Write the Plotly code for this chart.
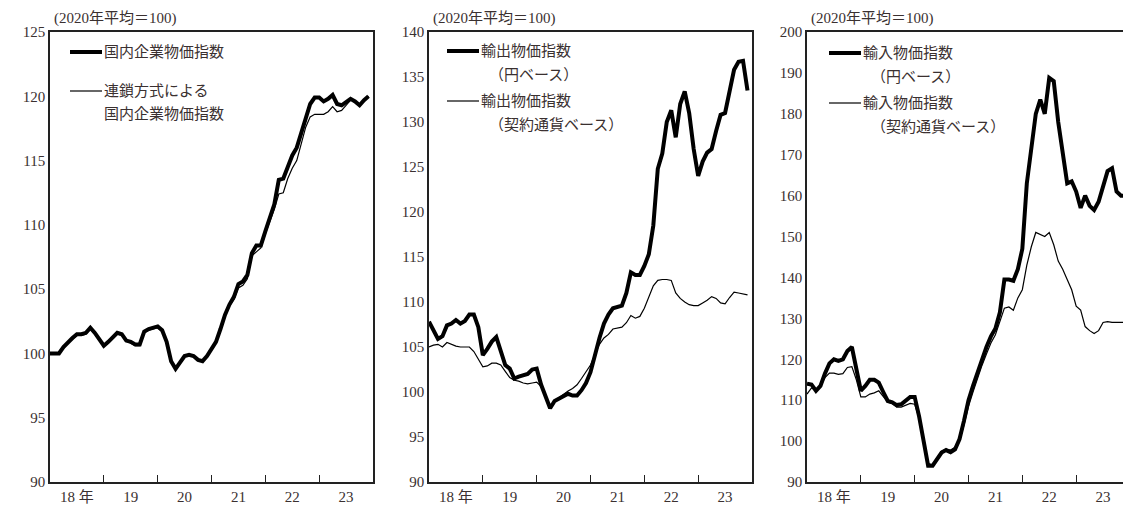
import plotly.graph_objects as go

W, H = 1123, 511

months = list(range(72))  # 2018-01 .. 2023-12

domestic = [100.0, 100.0, 100.0, 100.5, 100.9, 101.2, 101.5, 101.5, 101.6, 102.0, 101.6, 101.1,
            100.6, 100.9, 101.2, 101.6, 101.5, 101.0, 100.9, 100.7, 100.7, 101.7, 101.9, 102.0,
            102.1, 101.8, 100.9, 99.4, 98.8, 99.3, 99.8, 99.9, 99.8, 99.5, 99.4, 99.8,
            100.4, 100.9, 101.9, 103.0, 103.8, 104.4, 105.4, 105.6, 106.1, 107.8, 108.4, 108.4,
            109.5, 110.5, 111.6, 113.5, 113.6, 114.5, 115.4, 116.0, 117.2, 118.4, 119.4, 119.9,
            119.9, 119.6, 119.8, 120.1, 119.4, 119.3, 119.6, 119.8, 119.6, 119.3, 119.7, 120.0]
domestic_chain = [100.0, 100.0, 100.0, 100.4, 100.8, 101.1, 101.4, 101.4, 101.5, 101.9, 101.5, 101.0,
                  100.6, 100.9, 101.2, 101.5, 101.4, 101.0, 100.8, 100.6, 100.6, 101.6, 101.8, 101.9,
                  102.0, 101.7, 100.8, 99.4, 98.8, 99.3, 99.8, 99.9, 99.8, 99.5, 99.4, 99.8,
                  100.4, 100.9, 101.8, 102.9, 103.7, 104.2, 105.1, 105.3, 105.8, 107.6, 107.9, 108.2,
                  109.3, 110.2, 111.2, 112.4, 112.5, 113.6, 114.4, 115.0, 116.4, 117.6, 118.4, 118.6,
                  118.6, 118.6, 118.8, 119.2, 118.8, 118.9, 119.3, 119.7, 119.6, 119.3, 119.7, 120.0]

export_yen = [107.8, 106.8, 105.9, 106.2, 107.4, 107.6, 108.0, 107.6, 107.9, 108.6, 108.6, 107.2,
              104.1, 104.8, 105.6, 106.1, 104.5, 103.0, 102.6, 101.5, 101.7, 101.9, 102.0, 102.5,
              102.6, 100.8, 99.6, 98.2, 99.0, 99.3, 99.6, 99.8, 99.6, 99.6, 100.2, 101.0,
              102.2, 104.2, 106.0, 107.6, 108.6, 109.3, 109.4, 109.6, 111.0, 113.3, 113.0, 113.0,
              114.0, 115.3, 118.5, 124.8, 126.5, 130.0, 131.3, 128.3, 132.0, 133.4, 131.0, 127.0,
              124.0, 125.6, 126.6, 127.0, 129.0, 130.8, 131.0, 133.5, 135.8, 136.7, 136.8, 133.5]
export_contract = [105.0, 105.2, 105.3, 105.0, 105.5, 105.3, 105.1, 105.0, 105.0, 105.0, 104.5, 103.6,
                   102.8, 102.9, 103.2, 103.2, 103.0, 102.3, 101.6, 101.3, 101.2, 101.0, 100.9, 101.0,
                   101.1, 100.6, 99.5, 98.3, 99.0, 99.4, 99.8, 100.1, 100.4, 100.8, 101.5, 102.2,
                   103.0, 104.2, 105.3, 106.0, 106.4, 107.0, 107.1, 107.2, 107.7, 108.5, 108.2, 108.4,
                   109.3, 110.5, 111.8, 112.4, 112.5, 112.5, 112.4, 111.0, 110.4, 110.0, 109.7, 109.6,
                   109.6, 109.9, 110.2, 110.6, 110.4, 109.9, 109.8, 110.5, 111.1, 111.0, 110.9, 110.8]

import_yen = [114.0, 113.8, 112.3, 113.5, 116.5, 119.0, 120.0, 119.6, 120.0, 122.0, 123.0, 118.0,
              112.3, 113.5, 115.0, 115.0, 114.3, 112.0, 109.8, 109.5, 108.8, 109.0, 110.0, 110.8,
              110.8, 106.0, 100.0, 94.0, 94.0, 95.8, 97.2, 97.8, 97.3, 98.0, 100.5, 105.0,
              110.0, 113.5, 116.8, 120.0, 123.0, 125.6, 127.5, 131.5, 139.5, 139.5, 139.2, 142.0,
              147.0, 163.0, 171.0, 180.0, 183.5, 180.0, 188.8, 188.0, 178.0, 170.0, 163.0, 163.5,
              161.0, 157.0, 160.0, 157.5, 156.5, 158.5, 162.0, 166.0, 166.7, 161.0, 160.0, 160.0]
import_contract = [111.5, 113.0, 112.5, 113.5, 115.5, 116.6, 116.6, 116.3, 116.5, 118.0, 118.2, 115.0,
                   110.8, 110.8, 111.5, 111.8, 112.3, 111.0, 109.5, 109.2, 108.3, 108.3, 108.8, 109.2,
                   109.0, 105.5, 100.0, 94.5, 94.2, 96.0, 97.5, 98.0, 97.8, 98.5, 100.0, 104.0,
                   108.5, 112.0, 115.5, 118.5, 121.3, 124.0, 126.0, 129.0, 132.5, 132.8, 132.0, 135.0,
                   137.0, 143.0, 147.5, 151.0, 150.5, 150.0, 151.0, 148.0, 144.0, 142.0, 139.5, 137.0,
                   133.0, 132.0, 128.0, 127.0, 126.3, 127.0, 129.0, 129.2, 129.0, 129.0, 129.0, 129.0]

year_labels = ["18 年", "19", "20", "21", "22", "23"]
unit_label = "(2020年平均＝100)"

FONT = "Liberation Serif, Noto Sans CJK JP"
TXT = "#3a3030"


def px(x):
    return x / W


def py(y):
    return 1 - y / H


panels = [
    dict(left=50, right=373, yr=[90, 125], dt=5, thick=domestic, thin=domestic_chain,
         xr=[0, 72],
         leg=[("thick", 70, 52, "国内企業物価指数"), ("thin", 70, 91, "連鎖方式による"),
              ("none", 102, 114, "国内企業物価指数")]),
    dict(left=429, right=752, yr=[90, 140], dt=5, thick=export_yen, thin=export_contract,
         xr=[0, 72],
         leg=[("thick", 447, 51, "輸出物価指数"), ("none", 487, 75, "（円ベース）"),
              ("thin", 447, 101, "輸出物価指数"), ("none", 487, 125, "（契約通貨ベース）")]),
    dict(left=807, right=1123, yr=[90, 200], dt=10, thick=import_yen, thin=import_contract,
         xr=[0, 72 * 316 / 323],
         leg=[("thick", 829, 53, "輸入物価指数"), ("none", 869, 77, "（円ベース）"),
              ("thin", 829, 103, "輸入物価指数"), ("none", 869, 127, "（契約通貨ベース）")]),
]

fig = go.Figure()
annotations = []
shapes = []
for k, p in enumerate(panels):
    n = "" if k == 0 else str(k + 1)
    fig.add_trace(go.Scatter(x=months, y=p["thin"], mode="lines", xaxis="x" + n, yaxis="y" + n,
                             line=dict(color="black", width=1.2), showlegend=False))
    fig.add_trace(go.Scatter(x=months, y=p["thick"], mode="lines", xaxis="x" + n, yaxis="y" + n,
                             line=dict(color="black", width=4), showlegend=False))
    fig.update_layout(**{
        "xaxis" + n: dict(domain=[px(p["left"]), min(px(p["right"]), 1)], range=p["xr"],
                          anchor="y" + n, showgrid=False, zeroline=False, automargin=False,
                          showline=True, mirror=True, linecolor="#222", linewidth=1.5,
                          tickvals=[6, 18, 30, 42, 54, 66], ticktext=year_labels, ticks="",
                          tickfont=dict(family=FONT, size=15, color=TXT),
                          minor=dict(tickvals=[12, 24, 36, 48, 60], ticks="inside",
                                     ticklen=7, tickcolor="#222", tickwidth=1.2)),
        "yaxis" + n: dict(domain=[py(482), py(32)], range=p["yr"], anchor="x" + n,
                          dtick=p["dt"], showgrid=False, zeroline=False, automargin=False,
                          showline=True, mirror=True, linecolor="#222", linewidth=1.5,
                          ticks="", tickfont=dict(family=FONT, size=15, color=TXT)),
    })
    annotations.append(dict(x=px(p["left"] + 2), y=py(18), xref="paper", yref="paper",
                            text=unit_label, showarrow=False, xanchor="left", yanchor="middle",
                            font=dict(family=FONT, size=15, color=TXT)))
    for kind, x0, y0, label in p["leg"]:
        tx = x0
        if kind != "none":
            shapes.append(dict(type="line", xref="paper", yref="paper",
                               x0=px(x0), x1=px(x0 + 32), y0=py(y0), y1=py(y0),
                               line=dict(color="black", width=4 if kind == "thick" else 1.2)))
            tx = x0 + 32
        annotations.append(dict(x=px(tx), y=py(y0), xref="paper", yref="paper", text=label,
                                showarrow=False, xanchor="left", yanchor="middle",
                                font=dict(family=FONT, size=15, color=TXT)))

fig.update_layout(width=W, height=H, margin=dict(l=0, r=0, t=0, b=0),
                  paper_bgcolor="white", plot_bgcolor="white",
                  annotations=annotations, shapes=shapes)
fig.write_html("out.html", config={"displayModeBar": False},
               post_script="document.body.style.margin='0';")
